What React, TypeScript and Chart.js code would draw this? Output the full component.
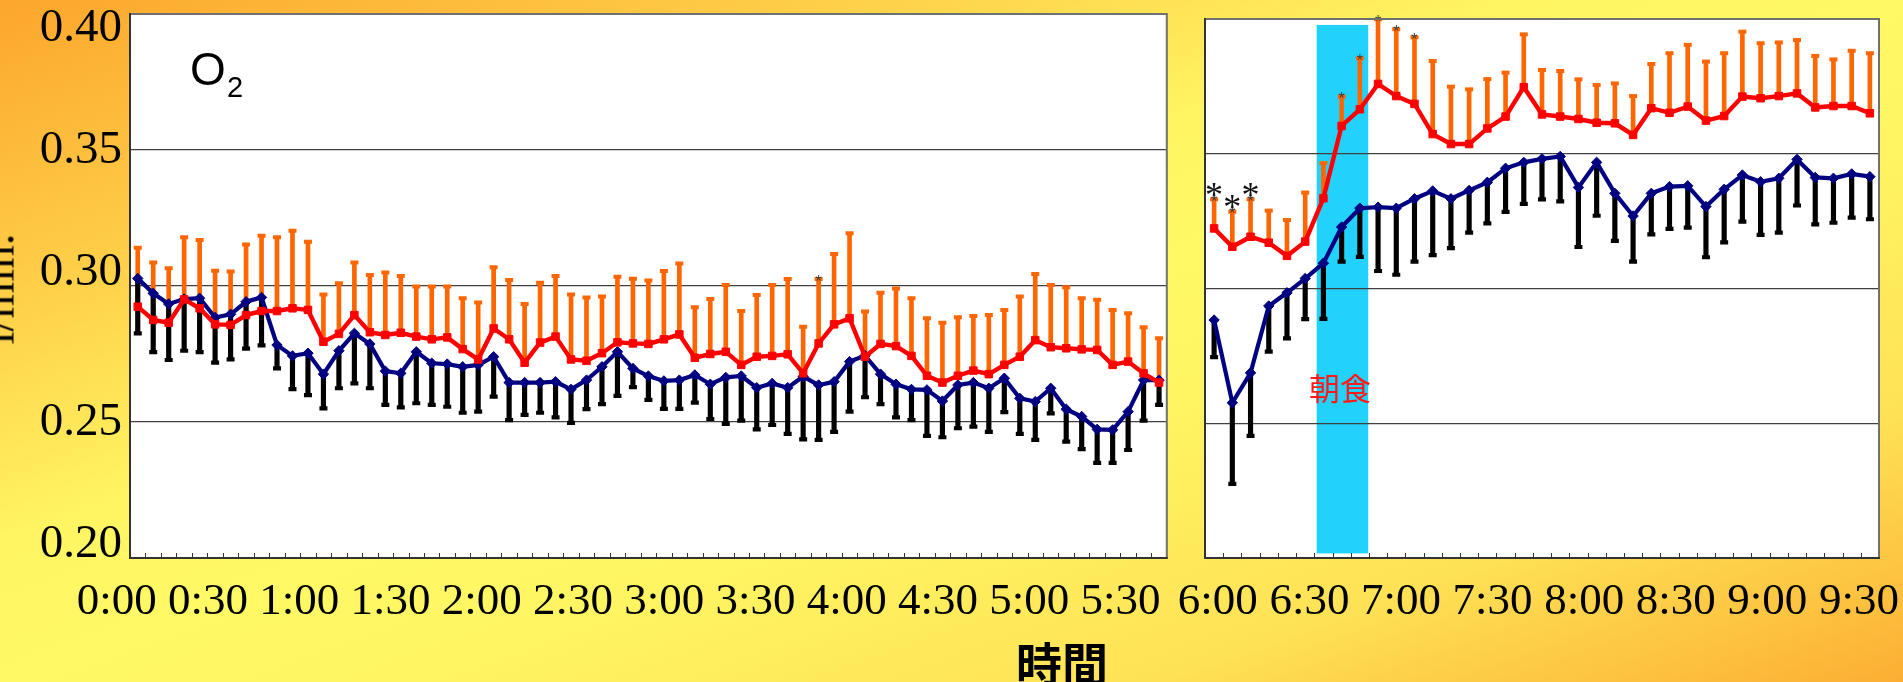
import React, { useEffect, useRef } from 'react';
import { Chart, registerables } from 'chart.js';

Chart.register(...registerables);

// ---------- categories ----------
const toLabel = (m: number) => `${Math.floor(m / 60)}:${String(m % 60).padStart(2, '0')}`;
const leftTimes: string[] = [];
for (let m = 0; m <= 330; m += 5) leftTimes.push(toLabel(m));
const rightTimes: string[] = [];
for (let m = 360; m <= 540; m += 5) rightTimes.push(toLabel(m));

// ---------- tick labels ----------
const leftXTickLabels = ['0:00', '0:30', '1:00', '1:30', '2:00', '2:30', '3:00', '3:30', '4:00', '4:30', '5:00', '5:30'];
const rightXTickLabels = ['6:00', '6:30', '7:00', '7:30', '8:00', '8:30', '9:00', '9:30'];
const yTickLabels = ['0.20', '0.25', '0.30', '0.35', '0.40'];
// where the y label text boxes sit in the original, in axis units
const yLabelAt = [0.2048, 0.2498, 0.305, 0.3496, 0.3945];
// range (minutes) of the time-label axis under each panel
const leftLabelRange = { min: 4.36, max: 345.18 };
const rightLabelRange = { min: 355.81, max: 576.58 };

// ---------- left panel (0:00 - 5:30) ----------
const leftRed = [
  0.2924, 0.2875, 0.2865, 0.2951, 0.2918, 0.2859, 0.2857, 0.2893, 0.2908, 0.2908,
  0.2918, 0.2912, 0.2795, 0.2824, 0.2893, 0.283, 0.282, 0.2828, 0.2814, 0.2804,
  0.2811, 0.2768, 0.273, 0.2844, 0.2804, 0.2718, 0.2792, 0.2814, 0.273, 0.2725,
  0.2753, 0.2793, 0.2789, 0.2787, 0.2804, 0.2822, 0.2736, 0.275, 0.2758, 0.271,
  0.274, 0.2743, 0.2749, 0.2679, 0.2789, 0.2859, 0.2881, 0.274, 0.2787, 0.2779,
  0.2743, 0.267, 0.2645, 0.267, 0.2689, 0.2676, 0.271, 0.274, 0.2801, 0.2775,
  0.2771, 0.2767, 0.2765, 0.271, 0.2722, 0.2679, 0.2645,
];
const leftRedUpper = [
  0.3141, 0.3086, 0.3065, 0.3179, 0.3169, 0.3056, 0.3053, 0.3153, 0.3185, 0.3179,
  0.3203, 0.3163, 0.2969, 0.301, 0.3086, 0.304, 0.305, 0.3037, 0.2998, 0.2998,
  0.2998, 0.2955, 0.2939, 0.3069, 0.3022, 0.2934, 0.3012, 0.3037, 0.2969, 0.2958,
  0.2961, 0.3034, 0.3027, 0.302, 0.3055, 0.3083, 0.2922, 0.2952, 0.3004, 0.2908,
  0.2967, 0.3004, 0.3026, 0.285, 0.3026, 0.3118, 0.3194, 0.2906, 0.2975, 0.2991,
  0.2955, 0.2881, 0.2865, 0.2885, 0.289, 0.2893, 0.2912, 0.2961, 0.3044, 0.3004,
  0.2995, 0.2955, 0.2949, 0.2912, 0.29, 0.2848, 0.2808,
];
const leftBlue = [
  0.3028, 0.2973, 0.2934, 0.2952, 0.2955, 0.2884, 0.2896, 0.2942, 0.2958, 0.2783,
  0.2743, 0.2753, 0.2676, 0.2762, 0.2826, 0.2787, 0.2687, 0.2679, 0.2758, 0.2716,
  0.2713, 0.2703, 0.271, 0.274, 0.2645, 0.2645, 0.2645, 0.2648, 0.262, 0.2654,
  0.2703, 0.2758, 0.2697, 0.2669, 0.2651, 0.2654, 0.2673, 0.2639, 0.2664, 0.2669,
  0.2626, 0.2642, 0.2626, 0.2667, 0.2636, 0.2648, 0.2722, 0.2744, 0.2676, 0.2639,
  0.262, 0.2618, 0.2577, 0.2636, 0.2645, 0.2624, 0.2661, 0.2587, 0.2575, 0.2624,
  0.2547, 0.252, 0.2473, 0.2471, 0.2538, 0.2654, 0.2654,
];
const leftBlueLower = [
  0.2826, 0.2757, 0.2728, 0.2762, 0.2757, 0.2718, 0.273, 0.277, 0.2782, 0.2697,
  0.2621, 0.2599, 0.255, 0.2624, 0.2642, 0.2624, 0.2563, 0.2554, 0.2569, 0.2563,
  0.2556, 0.2534, 0.2538, 0.2593, 0.2507, 0.2526, 0.2534, 0.2517, 0.2497, 0.2547,
  0.2566, 0.2596, 0.2628, 0.2581, 0.2548, 0.2548, 0.2571, 0.2511, 0.2493, 0.2505,
  0.2473, 0.2489, 0.2456, 0.2436, 0.2434, 0.2464, 0.2538, 0.2591, 0.2566, 0.2517,
  0.2507, 0.2449, 0.2444, 0.2477, 0.2483, 0.2464, 0.2536, 0.2456, 0.2434, 0.2532,
  0.2428, 0.24, 0.235, 0.235, 0.2397, 0.2505, 0.2563,
];

// ---------- right panel (6:00 - 9:00) ----------
const rightRed = [
  0.3223, 0.3155, 0.3192, 0.317, 0.3121, 0.3174, 0.3335, 0.3603, 0.3665, 0.3759,
  0.3714, 0.3685, 0.3573, 0.3536, 0.3536, 0.3594, 0.3638, 0.3747, 0.3646, 0.3638,
  0.3629, 0.3615, 0.3613, 0.357, 0.3669, 0.3652, 0.3675, 0.3623, 0.364, 0.3712,
  0.3706, 0.3714, 0.3724, 0.3672, 0.3677, 0.3677, 0.365,
];
const rightRedUpper = [
  0.3331, 0.3285, 0.3331, 0.3289, 0.3254, 0.3356, 0.3465, 0.3712, 0.3854, 0.3999,
  0.3962, 0.3932, 0.3844, 0.3749, 0.3739, 0.3777, 0.3801, 0.3943, 0.3811, 0.3807,
  0.3776, 0.3755, 0.3761, 0.3714, 0.3833, 0.3873, 0.3904, 0.3842, 0.3873, 0.3953,
  0.391, 0.3913, 0.3922, 0.3863, 0.385, 0.3882, 0.3873,
];
const rightBlue = [
  0.2883, 0.2576, 0.2687, 0.2935, 0.2984, 0.3037, 0.3094, 0.3228, 0.3298, 0.3302,
  0.3298, 0.3333, 0.3362, 0.3333, 0.3364, 0.3394, 0.3446, 0.3468, 0.3481, 0.349,
  0.3375, 0.3468, 0.3353, 0.3269, 0.3353, 0.3378, 0.3381, 0.3304, 0.3368, 0.3421,
  0.3396, 0.3409, 0.3479, 0.3412, 0.3409, 0.3425, 0.3415,
];
const rightBlueLower = [
  0.2745, 0.2275, 0.2453, 0.2766, 0.2815, 0.2886, 0.2887, 0.31, 0.3117, 0.3065,
  0.3051, 0.31, 0.3124, 0.315, 0.3207, 0.3242, 0.3284, 0.3314, 0.3331, 0.3323,
  0.3154, 0.327, 0.3177, 0.31, 0.3201, 0.3221, 0.3226, 0.3116, 0.3171, 0.3248,
  0.3199, 0.3207, 0.3308, 0.3238, 0.3244, 0.3263, 0.3257,
];

// significance marks (category indices)
const leftSmallStars = [44];
const rightSmallStars = [0, 1, 2, 7, 8, 9, 10, 11];
const rightBigStars = [0, 1, 2];
// breakfast band (category units / axis units)
const breakfastBand = { from: 5.63, to: 8.46, bottom: 0.2017, top: 0.3978 };

const SERIF = '"Liberation Serif", "Times New Roman", serif';
const SANS = '"Liberation Sans", Arial, sans-serif';
const CJK = '"Noto Sans CJK JP", "Noto Sans CJK SC", sans-serif';

const parseMin = (s: string) => {
  const [h, m] = s.split(':').map(Number);
  return h * 60 + m;
};

interface PanelCfg {
  times: string[];
  red: number[];
  redUp: number[];
  blue: number[];
  blueLow: number[];
  xTickLabels: string[];
  labelRange: { min: number; max: number };
  showY: boolean;
  yWidth: number;
  padding: { left: number; top: number; right: number; bottom: number };
  smallStars: number[];
  bigStars: number[];
  band?: { from: number; to: number; bottom: number; top: number };
}

function decorPlugin(cfg: PanelCfg) {
  return {
    id: 'panelDecor',
    beforeDraw(chart: any) {
      const { ctx, chartArea: a } = chart;
      ctx.save();
      ctx.fillStyle = '#ffffff';
      ctx.fillRect(a.left, a.top, a.right - a.left, a.bottom - a.top);
      if (cfg.band) {
        const xs = chart.scales.x;
        const ys = chart.scales.y;
        const x0 = xs.getPixelForValue(cfg.band.from);
        const x1 = xs.getPixelForValue(cfg.band.to);
        const y0 = ys.getPixelForValue(cfg.band.top);
        const y1 = ys.getPixelForValue(cfg.band.bottom);
        ctx.fillStyle = '#22D2FD';
        ctx.fillRect(x0, y0, x1 - x0, y1 - y0);
      }
      ctx.restore();
    },
    afterDatasetsDraw(chart: any) {
      const { ctx, chartArea: a } = chart;
      const xs = chart.scales.x;
      const ys = chart.scales.y;
      ctx.save();
      // inward minor ticks at category boundaries
      ctx.strokeStyle = '#333333';
      ctx.lineWidth = 1;
      ctx.beginPath();
      for (let i = 1; i < cfg.times.length; i++) {
        const px = Math.round((xs.getPixelForValue(i - 1) + xs.getPixelForValue(i)) / 2) + 0.5;
        ctx.moveTo(px, a.bottom);
        ctx.lineTo(px, a.bottom - 5);
      }
      ctx.stroke();
      // significance marks
      ctx.textAlign = 'center';
      ctx.textBaseline = 'alphabetic';
      ctx.fillStyle = '#3a3a3a';
      ctx.font = `16px ${SANS}`;
      cfg.smallStars.forEach((i) => {
        const x = xs.getPixelForValue(i);
        const y = ys.getPixelForValue(cfg.redUp[i]) - 2;
        ctx.fillText('*', x, y + 0.6 * 16);
      });
      ctx.fillStyle = '#111111';
      ctx.font = `36px ${SERIF}`;
      cfg.bigStars.forEach((i) => {
        const x = xs.getPixelForValue(i);
        const y = ys.getPixelForValue(cfg.redUp[i]) - 11;
        ctx.fillText('*', x, y + 0.52 * 36);
      });
      ctx.restore();
    },
    afterDraw(chart: any) {
      const { ctx, chartArea: a } = chart;
      ctx.save();
      ctx.lineWidth = 2;
      ctx.strokeStyle = '#707070';
      ctx.beginPath();
      ctx.moveTo(a.left, a.top);
      ctx.lineTo(a.right, a.top);
      ctx.lineTo(a.right, a.bottom);
      ctx.stroke();
      ctx.strokeStyle = '#333333';
      ctx.beginPath();
      ctx.moveTo(a.left, a.top - 1);
      ctx.lineTo(a.left, a.bottom);
      ctx.lineTo(a.right + 1, a.bottom);
      ctx.stroke();
      ctx.restore();
    },
  };
}

function buildChart(canvas: HTMLCanvasElement, cfg: PanelCfg) {
  const xTickMinutes = cfg.xTickLabels.map(parseMin);
  const scales: any = {
    x: {
      type: 'category',
      offset: true,
      weight: 0,
      grid: { display: false, drawTicks: false, tickLength: 0 },
      border: { display: false },
      ticks: { display: false },
      afterFit: (s: any) => {
        s.height = 0;
        s.paddingLeft = 0;
        s.paddingRight = 0;
      },
    },
    x2: {
      type: 'linear',
      position: 'bottom',
      weight: 1,
      offset: false,
      bounds: 'data',
      min: cfg.labelRange.min,
      max: cfg.labelRange.max,
      grid: { display: false, drawTicks: false, tickLength: 0, offset: false },
      border: { display: false },
      afterBuildTicks: (s: any) => {
        s.ticks = xTickMinutes.map((v) => ({ value: v }));
      },
      ticks: {
        autoSkip: false,
        maxRotation: 0,
        minRotation: 0,
        padding: 17,
        color: '#000000',
        font: { family: SERIF, size: 45 },
        callback: (_v: any, i: number) => cfg.xTickLabels[i],
      },
      afterFit: (s: any) => {
        s.height = 124;
        s.paddingLeft = 0;
        s.paddingRight = 0;
      },
    },
    y: {
      type: 'linear',
      position: 'left',
      weight: 0,
      min: 0.2,
      max: 0.4,
      ticks: { display: false, stepSize: 0.05 },
      grid: { color: '#404040', lineWidth: 1.3, drawTicks: false, tickLength: 0 },
      border: { display: false },
      afterFit: (s: any) => {
        s.width = cfg.yWidth;
        s.paddingTop = 0;
        s.paddingBottom = 0;
      },
    },
  };
  if (cfg.showY) {
    scales.yl = {
      type: 'linear',
      position: 'left',
      weight: 1,
      offset: false,
      bounds: 'data',
      min: 0.2,
      max: 0.4,
      grid: { display: false, drawTicks: false, tickLength: 0 },
      border: { display: false },
      afterBuildTicks: (s: any) => {
        s.ticks = yLabelAt.map((v) => ({ value: v }));
      },
      ticks: {
        autoSkip: false,
        padding: 8,
        color: '#000000',
        font: { family: SERIF, size: 47 },
        callback: (_v: any, i: number) => yTickLabels[i],
      },
      afterFit: (s: any) => {
        s.width = 130;
        s.paddingTop = 0;
        s.paddingBottom = 0;
      },
    };
  }

  const orange = '#FF6600';
  const black = '#000000';
  const datasets: any[] = [
    {
      type: 'line',
      label: 'red',
      data: cfg.red,
      borderColor: '#FF0000',
      backgroundColor: '#FF0000',
      borderWidth: 4.4,
      pointStyle: 'rect',
      pointRadius: 5.3,
      pointBorderWidth: 1,
      pointBackgroundColor: '#FF0000',
      pointBorderColor: '#FF0000',
      tension: 0,
      order: 0,
      xAxisID: 'x',
      yAxisID: 'y',
    },
    {
      type: 'line',
      label: 'blue',
      data: cfg.blue,
      borderColor: '#000080',
      backgroundColor: '#000080',
      borderWidth: 4.2,
      pointStyle: 'rectRot',
      pointRadius: 5.2,
      pointBorderWidth: 1,
      pointBackgroundColor: '#000080',
      pointBorderColor: '#000080',
      tension: 0,
      order: 1,
      xAxisID: 'x',
      yAxisID: 'y',
    },
    {
      type: 'bar',
      label: 'red SD',
      data: cfg.red.map((v, i) => [v, cfg.redUp[i]]),
      backgroundColor: orange,
      borderWidth: 0,
      barThickness: 4,
      grouped: false,
      order: 3,
      xAxisID: 'x',
      yAxisID: 'y',
    },
    {
      type: 'line',
      label: 'red SD cap',
      data: cfg.redUp,
      showLine: false,
      pointStyle: 'line',
      pointRadius: 4,
      pointBorderWidth: 4,
      pointBorderColor: orange,
      pointBackgroundColor: orange,
      order: 3,
      xAxisID: 'x',
      yAxisID: 'y',
    },
    {
      type: 'bar',
      label: 'blue SD',
      data: cfg.blue.map((v, i) => [cfg.blueLow[i], v]),
      backgroundColor: black,
      borderWidth: 0,
      barThickness: 4.5,
      grouped: false,
      order: 2,
      xAxisID: 'x',
      yAxisID: 'y',
    },
    {
      type: 'line',
      label: 'blue SD cap',
      data: cfg.blueLow,
      showLine: false,
      pointStyle: 'line',
      pointRadius: 4,
      pointBorderWidth: 4.2,
      pointBorderColor: black,
      pointBackgroundColor: black,
      order: 2,
      xAxisID: 'x',
      yAxisID: 'y',
    },
  ];

  return new Chart(canvas, {
    type: 'bar',
    data: { labels: cfg.times, datasets },
    options: {
      animation: false,
      responsive: false,
      maintainAspectRatio: false,
      devicePixelRatio: 1,
      layout: { padding: cfg.padding },
      plugins: { legend: { display: false }, tooltip: { enabled: false } },
      events: [],
      scales,
    } as any,
    plugins: [decorPlugin(cfg)],
  } as any);
}

export default function App() {
  const leftRef = useRef<HTMLCanvasElement>(null);
  const rightRef = useRef<HTMLCanvasElement>(null);

  useEffect(() => {
    const c1 = buildChart(leftRef.current as HTMLCanvasElement, {
      times: leftTimes,
      red: leftRed,
      redUp: leftRedUpper,
      blue: leftBlue,
      blueLow: leftBlueLower,
      xTickLabels: leftXTickLabels,
      labelRange: leftLabelRange,
      showY: true,
      yWidth: 0,
      padding: { left: 0, top: 14, right: 6, bottom: 0 },
      smallStars: leftSmallStars,
      bigStars: [],
    });
    const c2 = buildChart(rightRef.current as HTMLCanvasElement, {
      times: rightTimes,
      red: rightRed,
      redUp: rightRedUpper,
      blue: rightBlue,
      blueLow: rightBlueLower,
      xTickLabels: rightXTickLabels,
      labelRange: rightLabelRange,
      showY: false,
      yWidth: 30,
      padding: { left: 0, top: 19, right: 24, bottom: 0 },
      smallStars: rightSmallStars,
      bigStars: rightBigStars,
      band: breakfastBand,
    });
    return () => {
      c1.destroy();
      c2.destroy();
    };
  }, []);

  return (
    <div
      style={{
        position: 'fixed',
        left: 0,
        top: 0,
        width: 1903,
        height: 682,
        overflow: 'hidden',
        background:
          'linear-gradient(to bottom right, #FCA62C 0%, #FECB45 20%, #FFF562 40%, #FFF966 50%, #FFF562 60%, #FEE255 80%, #FCAE33 100%)',
      }}
    >
      <canvas
        ref={leftRef}
        width={1175}
        height={682}
        style={{ position: 'absolute', left: 0, top: 0, width: 1175, height: 682 }}
      />
      <canvas
        ref={rightRef}
        width={728}
        height={682}
        style={{ position: 'absolute', left: 1175, top: 0, width: 728, height: 682 }}
      />
      {/* y axis title, cut off by the page edge as in the original */}
      <div
        style={{
          position: 'absolute',
          left: -2,
          top: 289,
          transform: 'translate(-50%, -50%) rotate(-90deg)',
          fontFamily: SERIF,
          fontSize: 47,
          lineHeight: '47px',
          whiteSpace: 'nowrap',
          color: '#000',
        }}
      >
        l/min.
      </div>
      {/* O2 */}
      <span
        style={{
          position: 'absolute',
          left: 190,
          top: 46,
          fontFamily: SANS,
          fontSize: 46,
          lineHeight: '46px',
          color: '#000',
        }}
      >
        O
      </span>
      <span
        style={{
          position: 'absolute',
          left: 227,
          top: 73,
          fontFamily: SANS,
          fontSize: 29,
          lineHeight: '29px',
          color: '#000',
        }}
      >
        2
      </span>
      {/* breakfast */}
      <div
        style={{
          position: 'absolute',
          left: 1340,
          top: 386,
          transform: 'translate(-50%, -50%)',
          fontFamily: CJK,
          fontSize: 31,
          lineHeight: '31px',
          color: '#FF1A1A',
          whiteSpace: 'nowrap',
        }}
      >
        朝食
      </div>
      {/* x axis title */}
      <div
        style={{
          position: 'absolute',
          left: 1062,
          top: 638,
          transform: 'translateX(-50%)',
          fontFamily: CJK,
          fontSize: 46,
          lineHeight: '46px',
          fontWeight: 700,
          color: '#000',
          whiteSpace: 'nowrap',
        }}
      >
        時間
      </div>
    </div>
  );
}
